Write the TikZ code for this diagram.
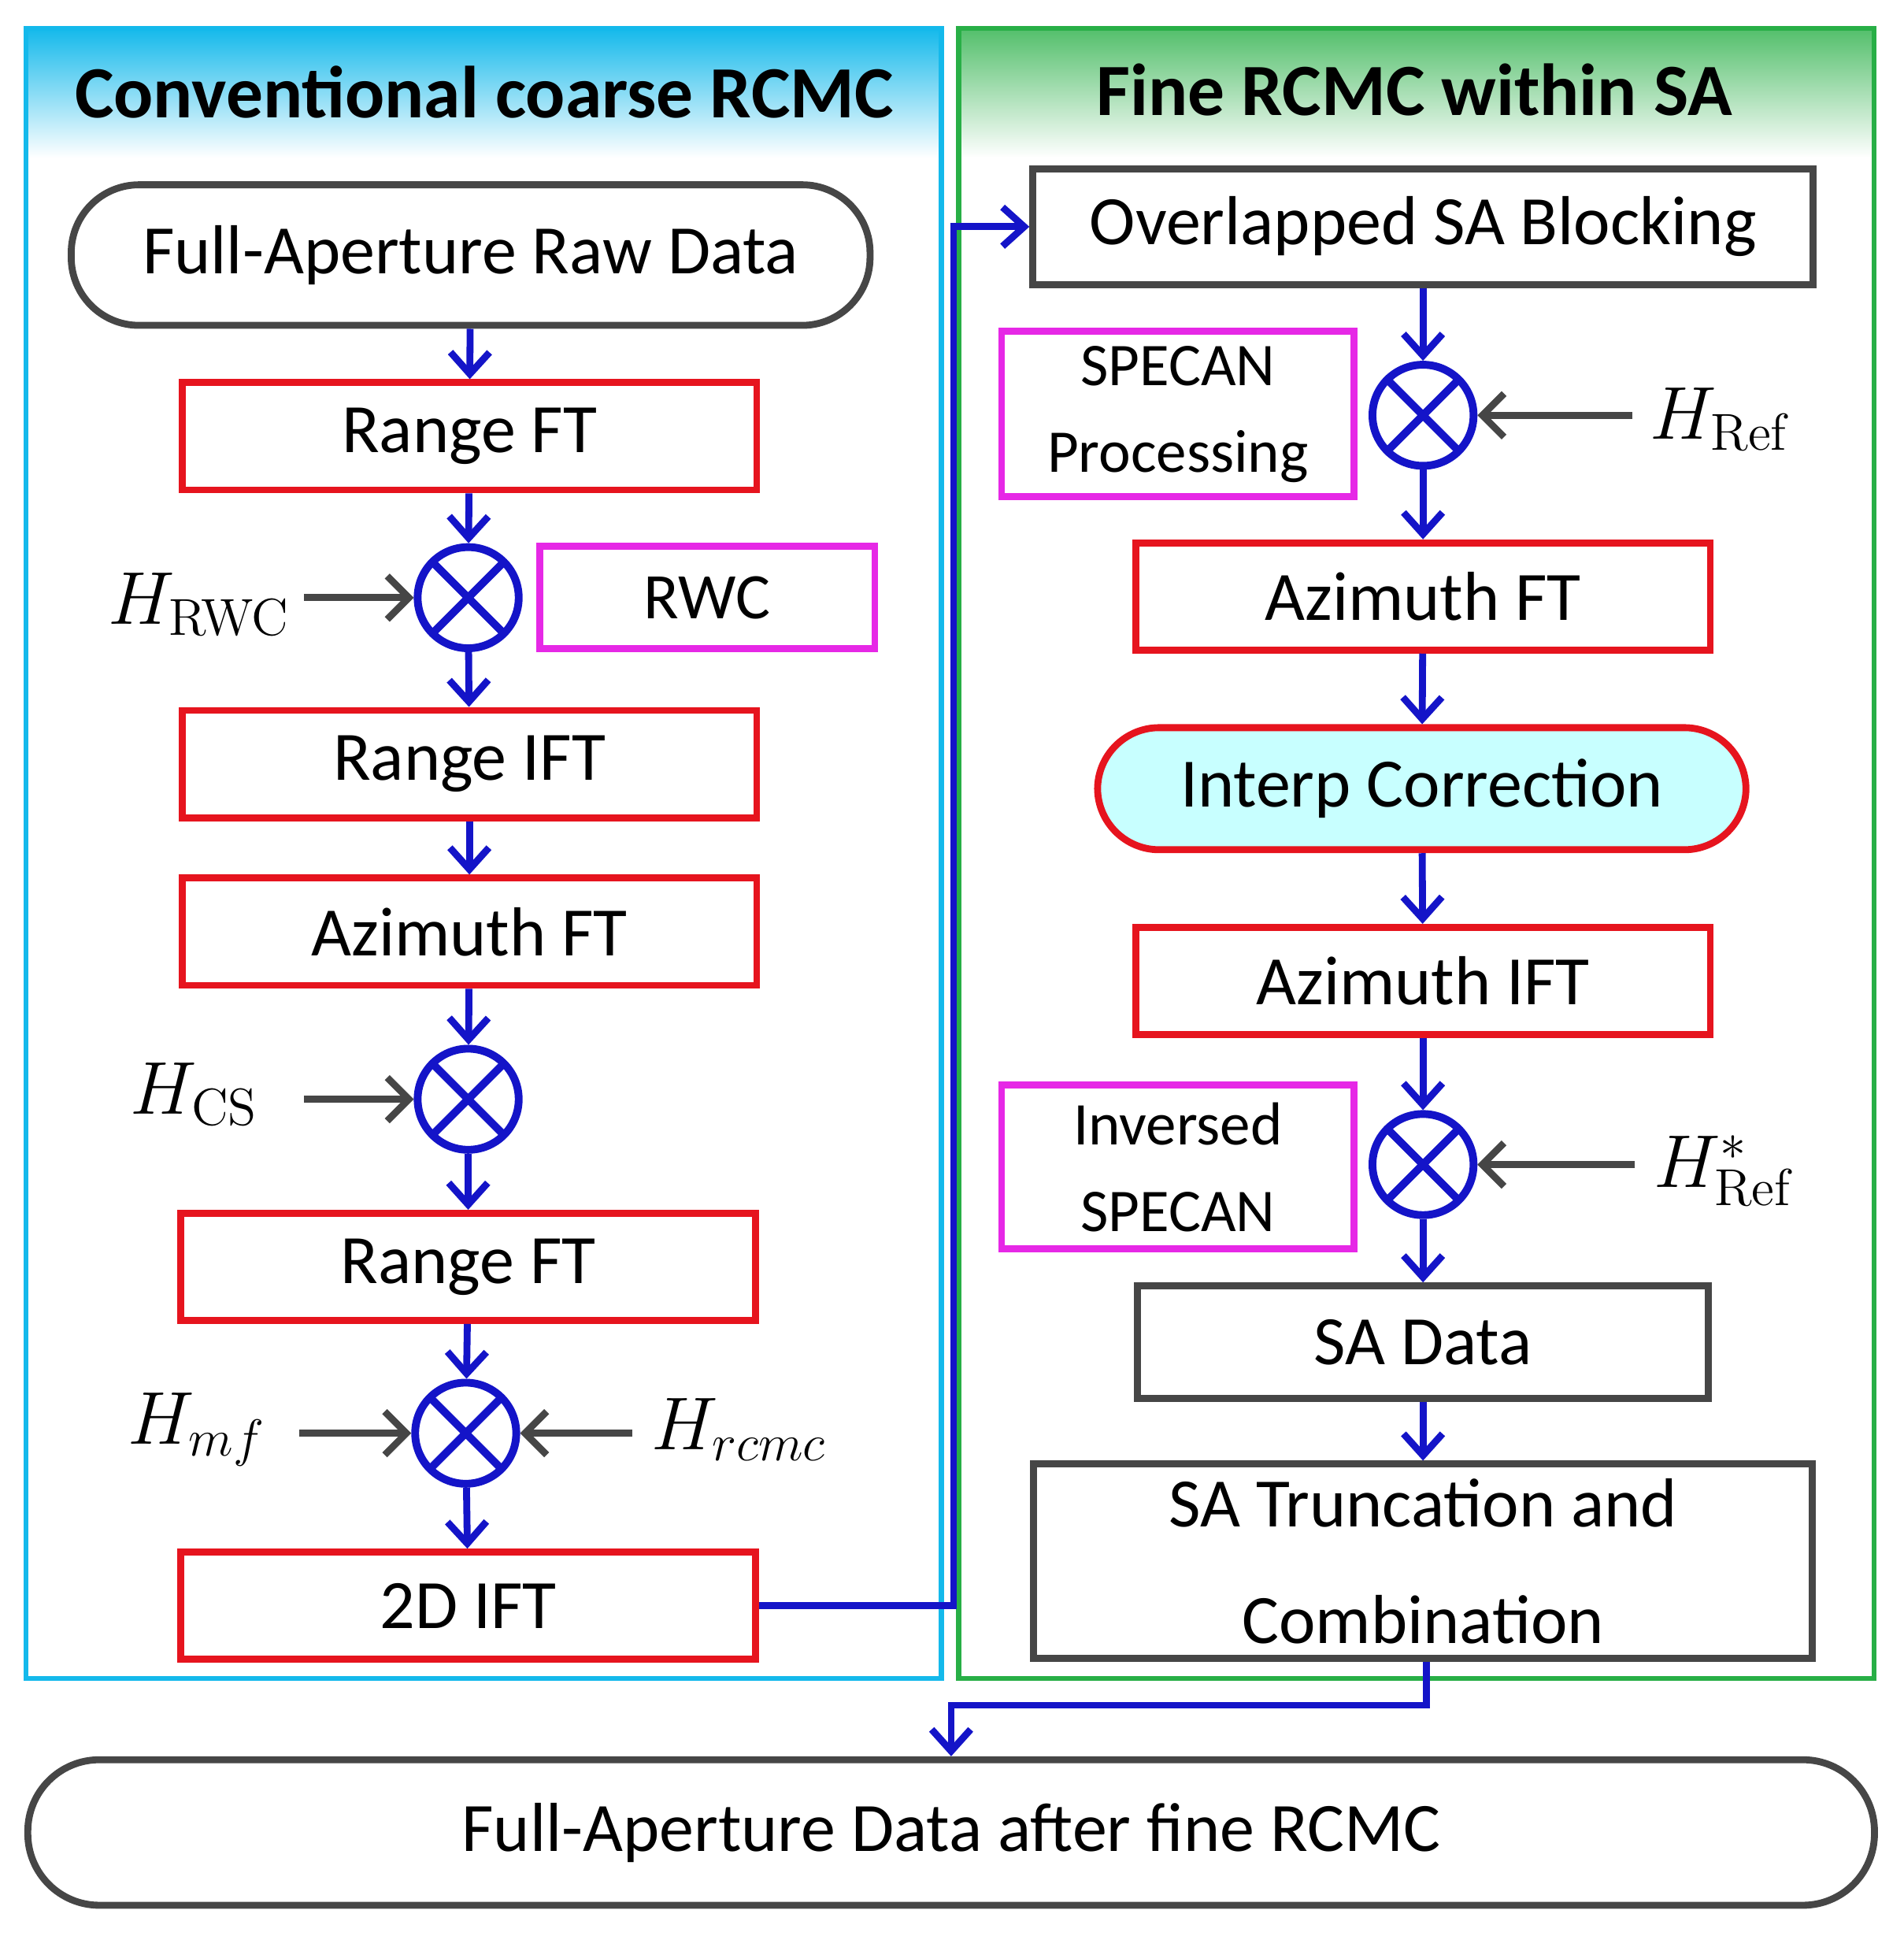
\documentclass[tikz,border=0pt]{standalone}
\usepackage[no-math]{fontspec}
\setmainfont{Carlito}
\usetikzlibrary{arrows.meta}
\definecolor{flowblue}{RGB}{20,20,200}
\definecolor{boxred}{RGB}{230,20,30}
\definecolor{boxmag}{RGB}{230,40,230}
\definecolor{boxgray}{RGB}{70,70,70}
\definecolor{panelcyan}{RGB}{20,185,235}
\definecolor{panelgreen}{RGB}{40,175,70}
\definecolor{interpfill}{RGB}{200,255,255}

\begin{document}
\begin{tikzpicture}[x=0.01cm, y=-0.01cm,
    font=\fontsize{16}{19}\selectfont,
    redbox/.style = {draw=boxred, line width=1.6pt, minimum width=4.66cm, minimum height=0.87cm},
    magbox/.style = {draw=boxmag, line width=1.6pt, align=center, font=\fontsize{14}{20}\selectfont},
    graybox/.style = {draw=boxgray, line width=1.6pt},
    pill/.style = {draw=boxgray, line width=1.6pt, rounded corners=0.55cm},
    mult/.style = {circle, draw=flowblue, line width=1.8pt, minimum size=0.82cm,
      path picture={\draw[flowblue, line width=1.8pt]
        (path picture bounding box.north west) -- (path picture bounding box.south east)
        (path picture bounding box.north east) -- (path picture bounding box.south west);}},
    flow/.style = {draw=flowblue, line width=1.6pt, -{Straight Barb[length=5pt,width=9pt]}},
    feed/.style = {draw=boxgray, line width=1.6pt, -{Straight Barb[length=5pt,width=10pt]}},
    hlabel/.style = {font=\fontsize{17}{19}\selectfont}]
  \useasboundingbox (0,0) rectangle (1545,1571);

  % panels
  \shade[top color=panelcyan, bottom color=white] (21,23) rectangle (764,128);
  \shade[top color=panelgreen!80, bottom color=white] (778,23) rectangle (1521,128);
  \draw[panelcyan, line width=1.2pt] (21,23) rectangle (764,1362);
  \draw[panelgreen, line width=1.2pt] (778,23) rectangle (1521,1362);
  \node[font=\fontsize{17}{20}\selectfont\bfseries] (lefttitle) at (393,75) {Conventional coarse RCMC};
  \node[font=\fontsize{17}{20}\selectfont\bfseries] (righttitle) at (1148,73) {Fine RCMC within SA};

  % left column
  \node[pill, minimum width=6.48cm, minimum height=1.14cm] (raw) at (382,207) {Full-Aperture Raw Data};
  \node[redbox] (rft1) at (381,354) {Range FT};
  \node[mult] (m1) at (380,485) {};
  \node[magbox, minimum width=2.72cm, minimum height=0.83cm, font=\fontsize{15}{18}\selectfont] (rwc) at (574,485) {RWC};
  \node[hlabel] (hrwc) at (162,490) {$H_{\mathrm{RWC}}$};
  \node[redbox] (rift) at (381,620) {Range IFT};
  \node[redbox] (aft1) at (381,756) {Azimuth FT};
  \node[mult] (m2) at (380,892) {};
  \node[hlabel] (hcs) at (158,888) {$H_{\mathrm{CS}}$};
  \node[redbox] (rft2) at (380,1028) {Range FT};
  \node[mult] (m3) at (378,1163) {};
  \node[hlabel] (hmf) at (160,1160) {$H_{mf}$};
  \node[hlabel] (hrcmc) at (600,1160) {$H_{rcmc}$};
  \node[redbox] (ift2d) at (380,1303) {2D IFT};
  \coordinate (hrwcin) at (247,485);
  \coordinate (hcsin) at (247,892);
  \coordinate (hmfin) at (243,1163);
  \coordinate (hrcmcin) at (513,1163);

  % right column
  \node[graybox, minimum width=6.33cm, minimum height=0.94cm] (block) at (1155,184) {Overlapped SA Blocking};
  \node[magbox, minimum width=2.86cm, minimum height=1.3cm] (specan) at (956,336) {SPECAN\\Processing};
  \node[mult] (m4) at (1155,337) {};
  \node[hlabel] (href) at (1397,340) {$H_{\mathrm{Ref}}$};
  \node[redbox] (aft2) at (1155,484) {Azimuth FT};
  \node[draw=boxred, fill=interpfill, line width=1.6pt, rounded corners=0.5cm,
    minimum width=5.26cm, minimum height=0.99cm] (interp) at (1154,640) {Interp Correction};
  \node[redbox] (aift) at (1155,796) {Azimuth IFT};
  \node[mult] (m5) at (1155,945) {};
  \node[magbox, minimum width=2.86cm, minimum height=1.33cm] (invspec) at (956,947) {Inversed\\SPECAN};
  \node[hlabel] (hrefs) at (1400,950) {$H^{*}_{\mathrm{Ref}}$};
  \node[graybox, minimum width=4.63cm, minimum height=0.91cm] (sadata) at (1155,1089) {SA Data};
  \node[graybox, minimum width=6.32cm, minimum height=1.48cm, align=center] (satrunc) at (1155,1267)
    {SA Truncation and\\[8pt]Combination};
  \coordinate (hrefin) at (1325,337);
  \coordinate (hrefsin) at (1327,945);

  \node[pill, minimum width=14.98cm, minimum height=1.18cm, rounded corners=0.58cm] (final) at (772,1487)
    {Full-Aperture Data after fine RCMC};

  % connectors
  \draw[flow] (raw) -- (rft1);
  \draw[flow] (rft1) -- (m1);
  \draw[flow] (m1) -- (rift);
  \draw[flow] (rift) -- (aft1);
  \draw[flow] (aft1) -- (m2);
  \draw[flow] (m2) -- (rft2);
  \draw[flow] (rft2) -- (m3);
  \draw[flow] (m3) -- (ift2d);
  \draw[feed] (hrwcin) -- (m1);
  \draw[feed] (hcsin) -- (m2);
  \draw[feed] (hmfin) -- (m3);
  \draw[feed] (hrcmcin) -- (m3);
  \draw[flow] (ift2d.east) -- ++(158,0) coordinate (jog) |- (block.west);
  \draw[flow] (block) -- (m4);
  \draw[feed] (hrefin) -- (m4);
  \draw[flow] (m4) -- (aft2);
  \draw[flow] (aft2) -- (interp);
  \draw[flow] (interp) -- (aift);
  \draw[flow] (aift) -- (m5);
  \draw[feed] (hrefsin) -- (m5);
  \draw[flow] (m5) -- (sadata);
  \draw[flow] (sadata) -- (satrunc);
  \draw[flow] (satrunc.south) ++(3,0) -- ++(0,35) -| (final.north);
\end{tikzpicture}
\end{document}
